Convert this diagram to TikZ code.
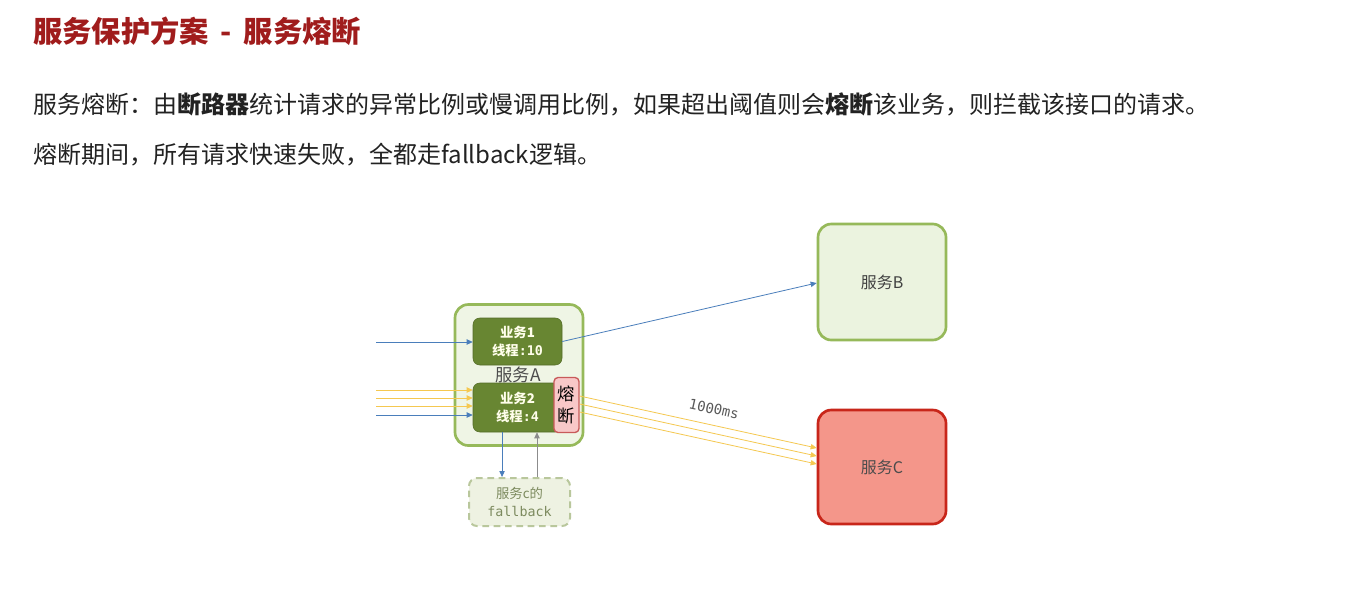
\documentclass[tikz,border=0pt]{standalone}
\usepackage{fontspec}
\setmainfont{Noto Sans CJK SC}
\setsansfont{Noto Sans CJK SC}
\setmonofont{DejaVu Sans Mono}
\usetikzlibrary{positioning,arrows.meta}
\definecolor{colortitle}  {RGB}{160,28 ,28 }
\definecolor{colortext}   {RGB}{34 ,34 ,34 }
\definecolor{colorsvcfill}{RGB}{235,243,223}
\definecolor{colorsvcline}{RGB}{150,185,90 }
\definecolor{colorbiz}    {RGB}{104,134,50 }
\definecolor{colorbizline}{RGB}{84 ,108,40 }
\definecolor{colorbrkfill}{RGB}{248,200,200}
\definecolor{colorbrkline}{RGB}{200,90 ,90 }
\definecolor{colorcfill}  {RGB}{244,150,138}
\definecolor{colorcline}  {RGB}{200,38 ,26 }
\definecolor{colorfbfill} {RGB}{238,242,226}
\definecolor{colorfbline} {RGB}{185,199,156}
\definecolor{colorfbtext} {RGB}{124,138,94 }
\definecolor{colorblue}   {RGB}{74 ,126,187}
\definecolor{coloryellow} {RGB}{245,200,80 }
\definecolor{colorgray}   {RGB}{140,140,140}

\begin{document}
\begin{tikzpicture}[
    x=0.75pt, y=-0.75pt,
    >={Triangle[length=4.5pt,width=4pt]},
    txt/.style={text=colortext,font={\fontsize{18}{22}\selectfont},anchor=west,inner sep=0pt},
    svc/.style={rectangle,rounded corners=10pt,line width=2pt,draw=colorsvcline,fill=colorsvcfill,
                minimum width=96pt,text=black!75,font={\fontsize{12}{14}\selectfont}},
    biz/.style={rectangle,rounded corners=5pt,draw=colorbizline,fill=colorbiz,text=white!92!yellow,
                minimum width=66.75pt,align=center,inner sep=0pt,font={\fontsize{10}{13.5}\selectfont\bfseries}},
    blue/.style={->,draw=colorblue,line width=0.6pt},
    yel/.style={->,draw=coloryellow,line width=0.6pt},
]

    \fill[white] (0,0) rectangle (1349,597);
    \useasboundingbox (0,0) rectangle (1349,597);

    % Text
    \node[txt,text=colortitle,font={\fontsize{22}{26}\selectfont\bfseries}] (title) at (33,31)
        {服务保护方案 \,-\, 服务熔断};
    \node[txt] (line1) at (33,104)
        {服务熔断：由\textbf{断路器}统计请求的异常比例或慢调用比例，如果超出阈值则会\textbf{熔断}该业务，则拦截该接口的请求。};
    \node[txt] (line2) at (33,155) {熔断期间，所有请求快速失败，全都走fallback逻辑。};

    % Nodes
    \node[svc,minimum height=105.75pt,fill=colorsvcfill!80!white] (svcA) at (519,375) {};
    \node[biz,minimum height=35.25pt] (biz1) at (517.5,341.5) {业务1\\线程{\ttfamily:10}};
    \node[biz,minimum height=36.75pt] (biz2) at (517.5,407.5) {业务2\\线程{\ttfamily:4}};
    \node[text=black!70,font={\fontsize{13}{15}\selectfont},inner sep=0pt] (labelA) at (518,375) {服务A};
    \node[rectangle,rounded corners=3pt,draw=colorbrkline,fill=colorbrkfill,line width=1pt,
          minimum width=18.75pt,minimum height=41.25pt,inner sep=0pt,align=center,
          font={\fontsize{13}{17}\selectfont}] (brk) at (566.5,405) {熔\\断};
    \node[svc,minimum height=87pt] (svcB) at (882,282) {服务B};
    \node[svc,minimum height=85.5pt,draw=colorcline,fill=colorcfill,text=black!70] (svcC) at (882,467) {服务C};
    \node[rectangle,rounded corners=6pt,dashed,dash pattern=on 5pt off 3.5pt,line width=1.5pt,
          draw=colorfbline,fill=colorfbfill,text=colorfbtext,align=center,
          minimum width=75.75pt,minimum height=36pt,inner sep=0pt,
          font={\fontsize{10}{13.5}\selectfont}] (fb) at (519.5,502) {服务c的\\{\ttfamily fallback}};
    \node[text=black!65,font={\ttfamily\fontsize{10.5}{12}\selectfont},rotate=-12.5] (delay) at (714,409) {1000ms};

    % Arrows
    \coordinate (in1) at (376,342);
    \coordinate (in2) at (376,390);
    \coordinate (in3) at (376,398);
    \coordinate (in4) at (376,406);
    \coordinate (in5) at (376,415);
    \draw[blue] (in1) -- (in1 -| biz1.west);
    \draw[yel]  (in2) -- (in2 -| biz2.west);
    \draw[yel]  (in3) -- (in3 -| biz2.west);
    \draw[yel]  (in4) -- (in4 -| biz2.west);
    \draw[blue] (in5) -- (in5 -| biz2.west);

    \draw[blue] (biz1.east) -- ([yshift=-0.75pt]svcB.west);
    \draw[yel] ([yshift=6.75pt]brk.east)  -- ([yshift=14.25pt]svcC.west);
    \draw[yel] ([yshift=0.75pt]brk.east)  -- ([yshift=8.25pt]svcC.west);
    \draw[yel] ([yshift=-5.25pt]brk.east) -- ([yshift=2.25pt]svcC.west);

    \draw[blue] ([xshift=-11.6pt]biz2.south) -- ([xshift=-11.6pt]biz2.south |- fb.north);
    \draw[->,draw=colorgray,line width=0.6pt] ([xshift=14.6pt]biz2.south |- fb.north) -- ([xshift=14.6pt]biz2.south);

\end{tikzpicture}
\end{document}
